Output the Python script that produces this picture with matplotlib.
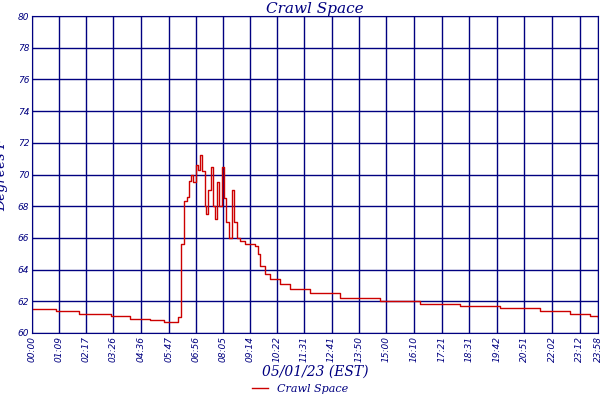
import matplotlib
matplotlib.use("Agg")
import matplotlib.pyplot as plt

minutes = [0, 60, 120, 200, 250, 300, 335, 371, 379, 386, 394, 399, 404, 409, 417, 422, 427, 432, 440, 442, 447, 455, 460, 465, 470, 475, 483, 488, 493, 500, 508, 513, 521, 528, 541, 567, 574, 579, 592, 605, 630, 655, 706, 783, 884, 986, 1087, 1189, 1291, 1367, 1418, 1438]
temps = [61.5, 61.4, 61.2, 61.1, 60.9, 60.8, 60.7, 61.0, 65.6, 68.3, 68.6, 69.6, 70.0, 69.5, 70.6, 70.3, 71.2, 70.2, 68.0, 67.5, 69.0, 70.5, 68.0, 67.2, 69.5, 68.0, 70.5, 68.5, 67.0, 66.0, 69.0, 67.0, 66.0, 65.8, 65.6, 65.5, 65.0, 64.2, 63.7, 63.4, 63.1, 62.8, 62.5, 62.2, 62.0, 61.8, 61.7, 61.6, 61.4, 61.2, 61.1, 61.0]
tick_min = [0, 69, 137, 206, 276, 347, 416, 485, 554, 622, 691, 761, 830, 900, 970, 1041, 1111, 1182, 1251, 1322, 1392, 1438]
tick_lbl = ["00:00", "01:09", "02:17", "03:26", "04:36", "05:47", "06:56", "08:05", "09:14", "10:22", "11:31", "12:41", "13:50", "15:00", "16:10", "17:21", "18:31", "19:42", "20:51", "22:02", "23:12", "23:58"]

navy = "#000080"
fig = plt.figure(figsize=(6, 4), dpi=100)
ax = fig.add_axes([32/600, 1-333/400, 566/600, 317/400])
ax.plot(minutes, temps, color="#cc0000", lw=1.0, drawstyle="steps-post", label="Crawl Space")
ax.set_xlim(0, 1438)
ax.set_ylim(60, 80)
ax.set_yticks(range(60, 81, 2))
ax.set_xticks(tick_min)
ax.set_xticklabels(tick_lbl, rotation=90, fontsize=6.5, style="italic", color=navy)
ax.tick_params(axis="y", labelsize=6.5, colors=navy, length=0, pad=2)
ax.tick_params(axis="x", length=0, colors=navy, pad=2)
for lab in ax.get_yticklabels():
    lab.set_style("italic")
ax.grid(True, color=navy, lw=1)
for s in ax.spines.values():
    s.set_color(navy)
ax.set_title("Crawl Space", fontsize=11, style="italic", color=navy, family="DejaVu Serif", pad=2)
ax.set_ylabel("Degrees F", fontsize=10, style="italic", color=navy, family="DejaVu Serif")
ax.yaxis.set_label_coords(-24/566, 0.5)
ax.set_xlabel("05/01/23 (EST)", fontsize=10, style="italic", color=navy, family="DejaVu Serif", labelpad=2)
leg = fig.legend(*ax.get_legend_handles_labels(), loc="lower center", bbox_to_anchor=(0.5, -0.01), frameon=False, fontsize=8, handlelength=1.5)
for t in leg.get_texts():
    t.set_color(navy); t.set_style("italic"); t.set_family("DejaVu Serif")
fig.savefig("out.png")
